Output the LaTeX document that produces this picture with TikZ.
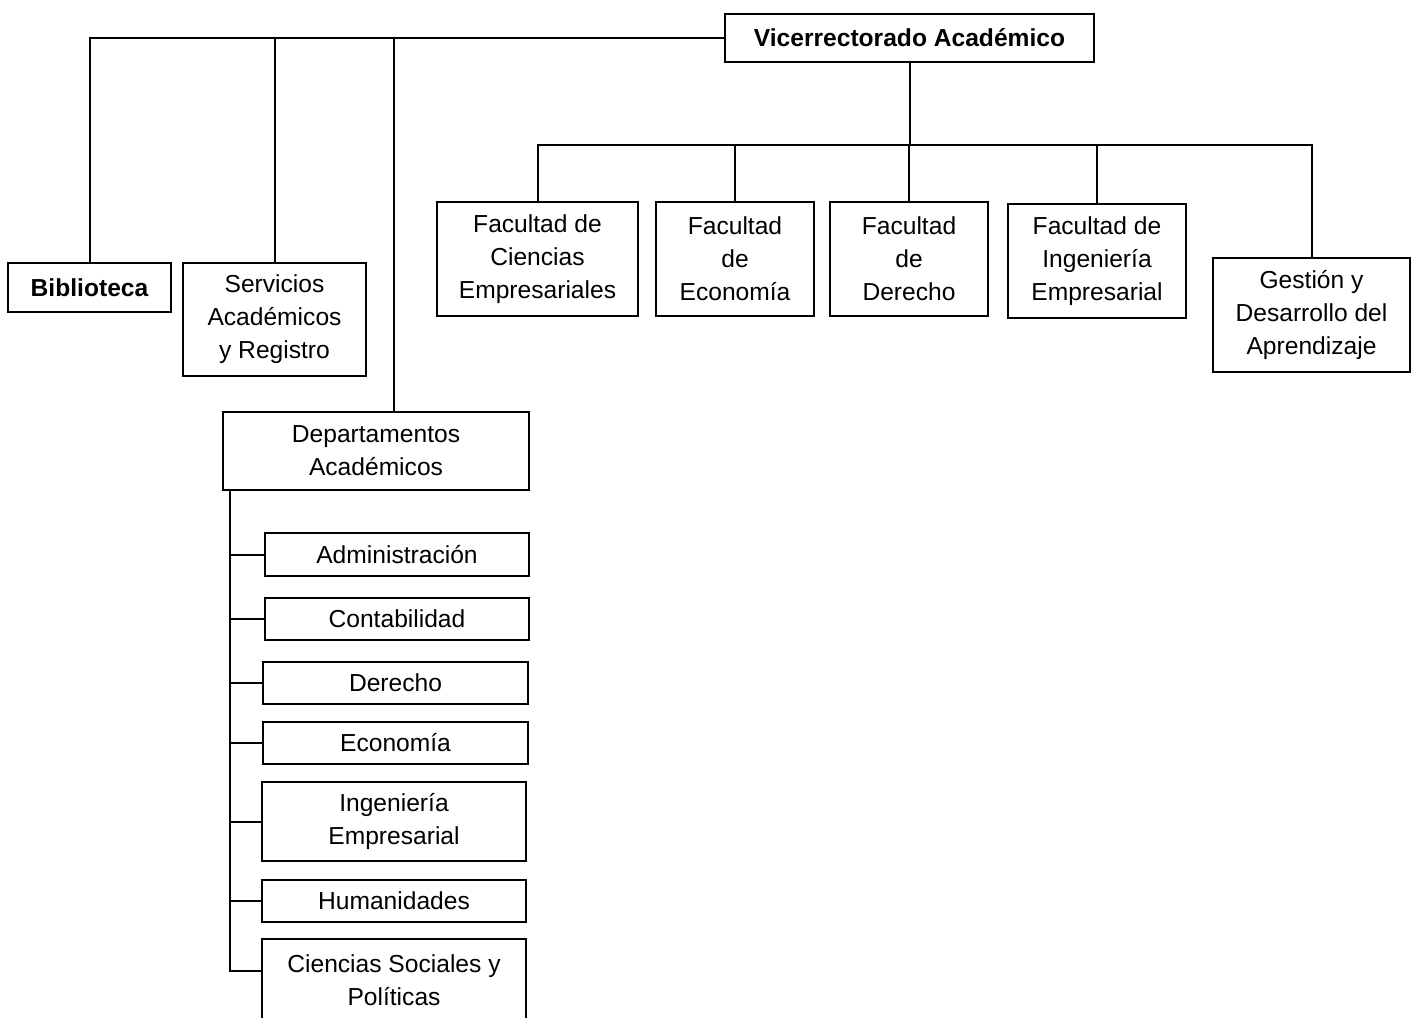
\documentclass[tikz,border=0pt]{standalone}
\usepackage{fontspec}
\setmainfont{Liberation Sans}
\usepackage{tikz}

\begin{document}
\begin{tikzpicture}[x=0.5pt,y=-0.5pt,line width=1pt,
  caja/.style={draw,align=center,inner sep=0pt,font=\fontsize{12.3pt}{16.5pt}\selectfont},
  line width=1pt]

  \path[use as bounding box,clip] (0,0) rectangle (1413,1017);

  \node[caja,minimum width=184.5pt,minimum height=24pt,font=\fontsize{12.3pt}{16.5pt}\selectfont\bfseries] (vice) at (909.5,38) {Vicerrectorado Académico};

  \node[caja,minimum width=81.5pt,minimum height=24.5pt,font=\fontsize{12.3pt}{16.5pt}\selectfont\bfseries] (bib) at (89.5,287.5) {Biblioteca};
  \node[caja,minimum width=91.5pt,minimum height=56.5pt] (serv) at (274.5,319.5) {Servicios\\Académicos\\y Registro};
  \node[caja,minimum width=153pt,minimum height=39pt] (dept) at (376,451) {Departamentos\\Académicos};

  \node[caja,minimum width=100.5pt,minimum height=57pt] (fce) at (537.5,259) {Facultad de\\Ciencias\\Empresariales};
  \node[caja,minimum width=79pt,minimum height=57pt] (feco) at (735,259) {Facultad\\de\\Economía};
  \node[caja,minimum width=79pt,minimum height=57pt] (fder) at (909,259) {Facultad\\de\\Derecho};
  \node[caja,minimum width=89pt,minimum height=57pt] (fing) at (1097,261) {Facultad de\\Ingeniería\\Empresarial};
  \node[caja,minimum width=98.5pt,minimum height=57pt] (gest) at (1311.5,315) {Gestión y\\Desarrollo del\\Aprendizaje};

  \node[caja,minimum width=132pt,minimum height=21.5pt] (adm) at (397,554.5) {Administración};
  \node[caja,minimum width=132pt,minimum height=21pt] (con) at (397,619) {Contabilidad};
  \node[caja,minimum width=132.5pt,minimum height=21pt] (der) at (395.5,683) {Derecho};
  \node[caja,minimum width=132.5pt,minimum height=21pt] (eco) at (395.5,743) {Economía};
  \node[caja,minimum width=132pt,minimum height=39.5pt] (ing) at (394,821.5) {Ingeniería\\Empresarial};
  \node[caja,minimum width=132pt,minimum height=21pt] (hum) at (394,901) {Humanidades};
  \node[caja,minimum width=132pt,minimum height=41pt] (cs) at (394,980) {Ciencias Sociales y\\Políticas};

  % ramas de la izquierda
  \coordinate (dj) at (394,0);
  \draw (vice.west) -| (bib.north);
  \draw (vice.west) -| (serv.north);
  \draw (vice.west) -| (dept.north -| dj);

  % facultades
  \coordinate (bus) at (910,145);
  \draw (vice.south) -- (vice.south |- bus);
  \draw (fce.north) |- (gest.north |- bus) -- (gest.north);
  \draw (feco.north) -- (feco.north |- bus);
  \draw (fder.north) -- (fder.north |- bus);
  \draw (fing.north) -- (fing.north |- bus);

  % departamentos
  \coordinate (sp) at (230,490);
  \draw (sp) |- ([yshift=4.5pt]cs.west);
  \foreach \n in {adm,con,der,eco,ing,hum}
    \draw (sp |- \n.west) -- (\n.west);

\end{tikzpicture}
\end{document}
